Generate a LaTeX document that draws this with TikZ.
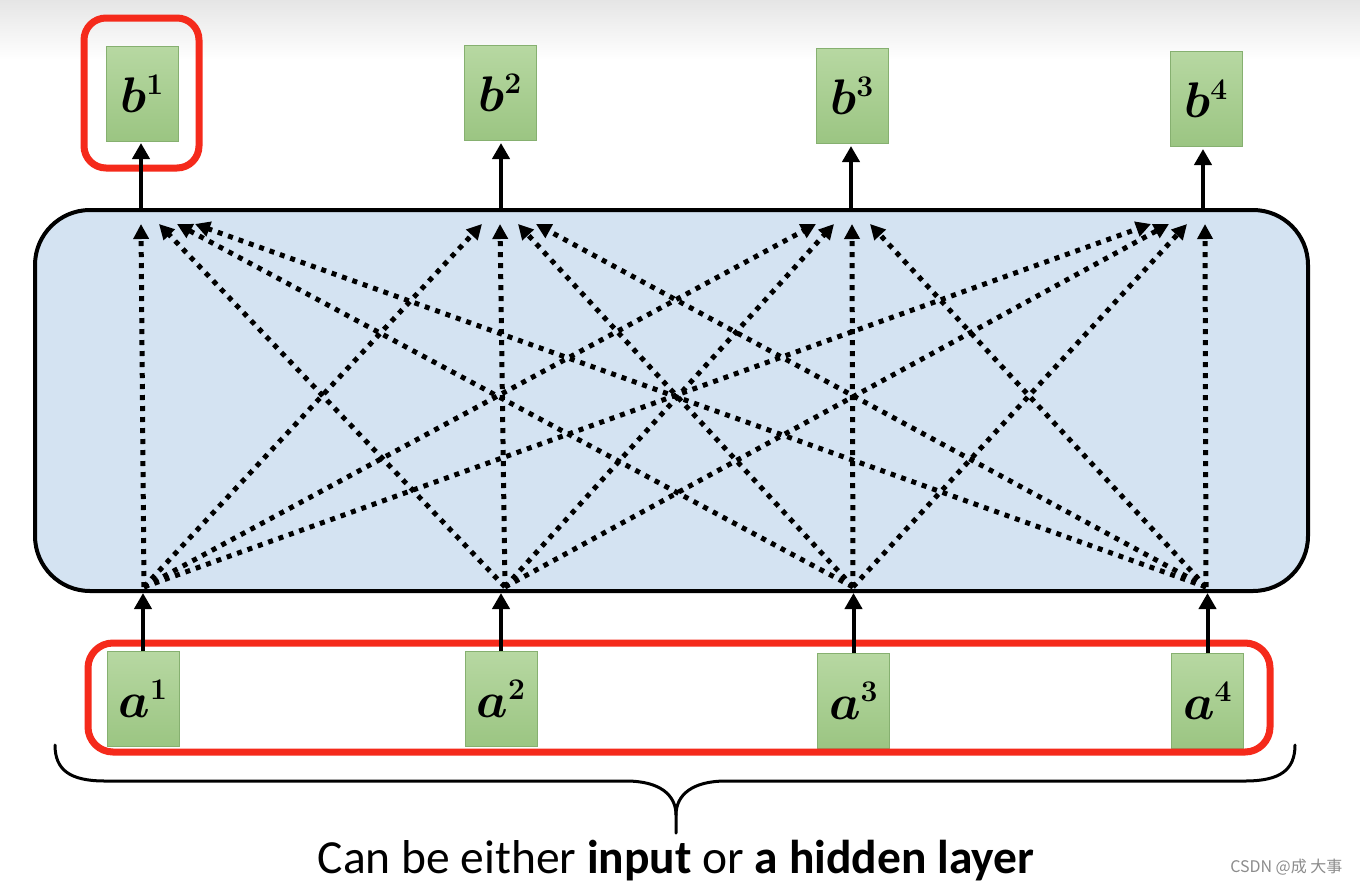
\RequirePackage{fix-cm}
\documentclass[tikz,border=0pt]{standalone}
\usepackage{fontspec}
\usetikzlibrary{arrows.meta,calc}
\newfontfamily\calfont{Carlito}
\newfontfamily\cjkfont{Noto Sans CJK SC}
\DeclareMathSizes{50}{50}{30}{24}
\definecolor{boxgreen}{HTML}{A9CF90}
\definecolor{boxgreenD}{HTML}{9BC582}
\definecolor{boxgreenL}{HTML}{B7D8A2}
\definecolor{greenedge}{HTML}{86B070}
\definecolor{hlred}{HTML}{F52A1B}
\definecolor{layerblue}{HTML}{D4E3F2}
\tikzset{
  vecbox/.style={draw=greenedge, line width=1pt, top color=boxgreenL, bottom color=boxgreenD,
    minimum width=72pt, minimum height=95pt, inner sep=0pt,
    font=\fontsize{50}{50}\selectfont\boldmath},
  redframe/.style={draw=hlred, line width=7pt},
  solidarrow/.style={draw=black, line width=4pt, -{Triangle[length=16pt,width=17pt]}},
  dotarrow/.style={draw=black, line width=5pt, dash pattern=on 5pt off 6pt,
    -{Triangle[length=15pt,width=15pt]}},
}
\begin{document}
\begin{tikzpicture}[x=1pt,y=-1pt]
\useasboundingbox (0,0) rectangle (1360,884);
\fill[white] (0,0) rectangle (1360,884);
\shade[top color=black!10, bottom color=white] (0,0) rectangle (1360,60);

% self-attention layer
\node[draw=black, line width=4pt, fill=layerblue, rounded corners=55pt,
  minimum width=1273pt, minimum height=381pt, inner sep=0pt] (layer) at (671.5,400.5) {};

% outputs
\node[vecbox] (b1) at (142,93.5) {$b^1$};
\node[vecbox] (b2) at (500,93) {$b^2$};
\node[vecbox] (b3) at (852,96) {$b^3$};
\node[vecbox] (b4) at (1206,99) {$b^4$};

% inputs
\node[vecbox] (a1) at (143,699) {$a^1$};
\node[vecbox] (a2) at (501,699) {$a^2$};
\node[vecbox] (a3) at (853.5,701) {$a^3$};
\node[vecbox] (a4) at (1207.5,701) {$a^4$};

% red highlight frames
\draw[redframe, rounded corners=22pt] (84,18) rectangle (199,168);
\draw[redframe, rounded corners=25pt] (88,643) rectangle (1270,752);

% source and target points inside the layer
\coordinate (s1) at (144,587);
\coordinate (s2) at (505,587);
\coordinate (s3) at (853,587);
\coordinate (s4) at (1206,587);
\coordinate (t1) at (141,224);
\coordinate (t2) at (500,224);
\coordinate (t3) at (852,224);
\coordinate (t4) at (1205,224);

% dotted all-to-all connections
\foreach \i in {1,...,4}{
  \foreach \j in {1,...,4}{
    \pgfmathsetmacro{\off}{18*(\i-\j)}
    \draw[dotarrow] (s\i) -- ($(t\j)+(\off,0)$);
  }
}

% solid arrows: inputs to layer
\foreach \k in {1,...,4}{
  \draw[solidarrow] (a\k.north) -- (a\k.north |- layer.south);
}
% solid arrows: layer to outputs
\draw[solidarrow] (141,208) -- (141,143);
\draw[solidarrow] (501,208) -- (501,143);
\draw[solidarrow] (851,208) -- (851,146);
\draw[solidarrow] (1203,208) -- (1203,149);

% brace
\coordinate (bl) at (55,745);
\coordinate (br) at (1295,745);
\coordinate (btip) at (676,833);
\draw[line width=3pt, line cap=round]
  (bl) .. controls (55,770) and (70,781) .. (105,781)
  -- (626,781) .. controls (660,781) and (676,795) .. (676,815)
  -- (btip);
\draw[line width=3pt, line cap=round]
  (br) .. controls (1295,770) and (1280,781) .. (1245,781)
  -- (726,781) .. controls (692,781) and (676,795) .. (676,815);

\node[font=\calfont\fontsize{47.5}{50}\selectfont, anchor=base] (cap) at (676,873)
  {Can be either \textbf{input} or \textbf{a hidden layer}};

\node[font=\cjkfont\fontsize{16}{18}\selectfont, text=black!45, anchor=base east] (wm) at (1346,872)
  {CSDN @成 大事};
\end{tikzpicture}
\end{document}
